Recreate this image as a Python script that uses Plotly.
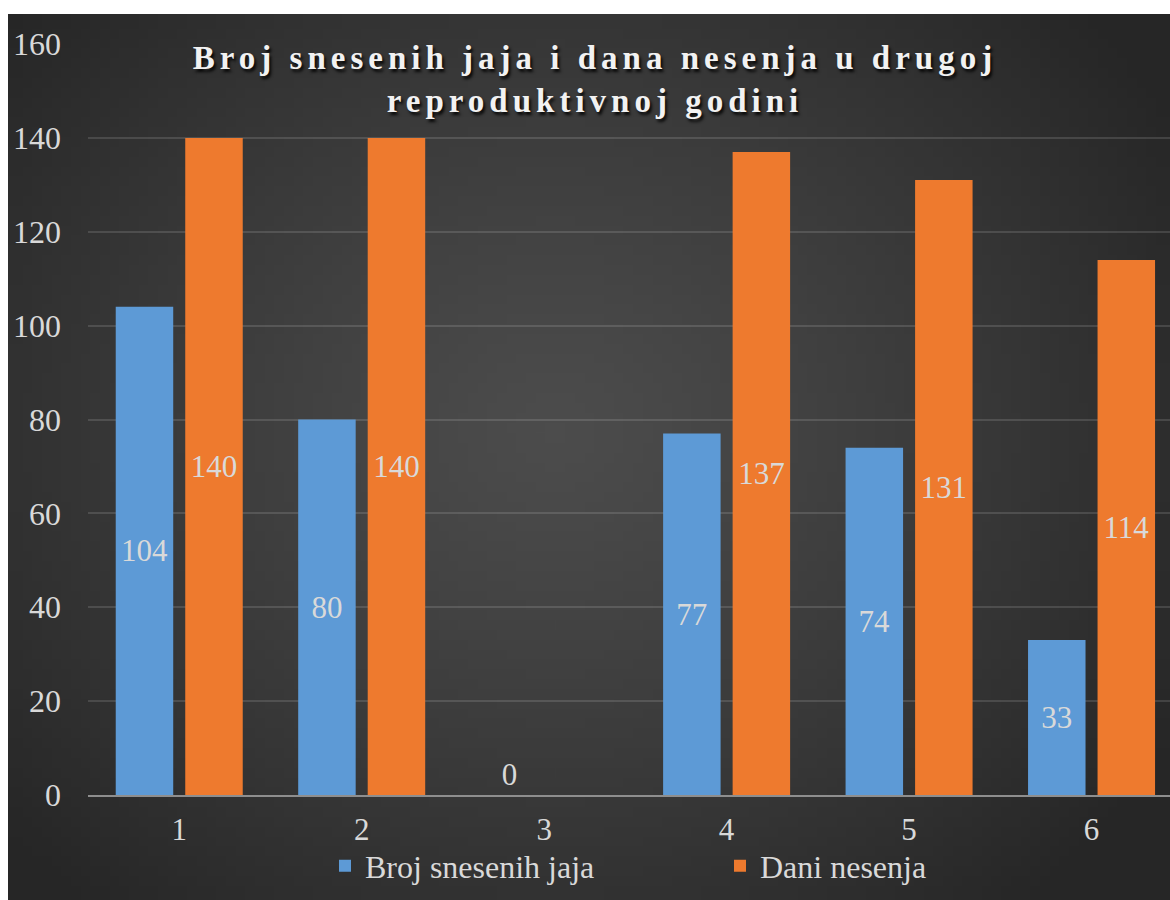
import base64, struct, zlib, math
import plotly.graph_objects as go

categories = [1, 2, 3, 4, 5, 6]
category_labels = ["1", "2", "3", "4", "5", "6"]
eggs = [104, 80, 0, 77, 74, 33]          # Broj snesenih jaja
days = [140, 140, None, 137, 131, 114]   # Dani nesenja
y_ticks = [0, 20, 40, 60, 80, 100, 120, 140, 160]

title_text = "Broj snesenih jaja i dana nesenja u drugoj<br>reproduktivnoj godini"

# ---- radial gradient background as an embedded PNG ----
def gradient_png(w=120, h=90):
    rows = []
    cx, cy = 0.47, 0.47
    for j in range(h):
        row = bytearray([0])
        for i in range(w):
            dx = (i / (w - 1) - cx) * 1.15
            dy = (j / (h - 1) - cy)
            d = math.sqrt(dx * dx + dy * dy) / 0.72
            d = min(d, 1.0)
            v = int(round(76 - (76 - 38) * d ** 1.2))
            row += bytes([v])
        rows.append(bytes(row))
    raw = b"".join(rows)
    def chunk(t, data):
        c = struct.pack(">I", len(data)) + t + data
        return c + struct.pack(">I", zlib.crc32(t + data) & 0xffffffff)
    png = b"\x89PNG\r\n\x1a\n"
    png += chunk(b"IHDR", struct.pack(">IIBBBBB", w, h, 8, 0, 0, 0, 0))
    png += chunk(b"IDAT", zlib.compress(raw, 9))
    png += chunk(b"IEND", b"")
    return "data:image/png;base64," + base64.b64encode(png).decode()

W, H = 1170, 900
L, T, R, B = 88, 44, 1170, 795
pw, ph = R - L, B - T
def px(x): return (x - L) / pw
def py(y): return (B - y) / ph

serif = "Liberation Serif"
txt_col = "#d9d9d9"
fs = 32

fig = go.Figure()
fig.add_trace(go.Bar(
    x=categories, y=eggs, name="Broj snesenih jaja",
    marker=dict(color="#5d9ad6", line=dict(width=0)),
    text=[str(v) for v in eggs],
    textposition=["inside" if v > 0 else "outside" for v in eggs],
    insidetextanchor="middle", textangle=0, constraintext="none",
    textfont=dict(family=serif, size=31, color=txt_col),
    cliponaxis=False,
))
fig.add_trace(go.Bar(
    x=categories, y=days, name="Dani nesenja",
    marker=dict(color="#ee7a2e", line=dict(width=0)),
    text=[("" if v is None else str(v)) for v in days],
    textposition="inside",
    insidetextanchor="middle", textangle=0, constraintext="none",
    textfont=dict(family=serif, size=31, color=txt_col),
))

fig.update_layout(
    width=W, height=H,
    margin=dict(l=L, r=W - R, t=T, b=H - B, pad=0),
    paper_bgcolor="white",
    plot_bgcolor="rgba(0,0,0,0)",
    barmode="group", bargap=0.238, bargroupgap=0.173,
    title=dict(
        text=title_text, x=px(595), xref="paper", xanchor="center",
        y=1 - 69 / H, yref="container", yanchor="top",
        font=dict(family=serif, size=33, color="#f2f2f2", weight="bold",
                  shadow="2px 3px 3px rgba(0,0,0,0.85)"),
    ),
    xaxis=dict(
        range=[0.5, 6.43], tickmode="array", tickvals=categories, ticktext=category_labels,
        showgrid=False, zeroline=False, showline=True, linecolor="#8e8e8e", linewidth=2,
        ticks="", ticklabelstandoff=6,
        tickfont=dict(family=serif, size=31, color=txt_col),
    ),
    yaxis=dict(
        range=[0, 160], tickmode="array", tickvals=y_ticks,
        showgrid=True, gridcolor="rgba(255,255,255,0.13)", gridwidth=2,
        zeroline=False, showline=False, ticks="", ticklabelstandoff=26,
        tickfont=dict(family=serif, size=fs, color=txt_col),
    ),
    legend=dict(
        orientation="h", x=px(325), xanchor="left", y=py(866), yanchor="middle",
        entrywidth=350, entrywidthmode="pixels",
        font=dict(family=serif, size=fs, color=txt_col),
        bgcolor="rgba(0,0,0,0)", itemclick=False,
    ),
    showlegend=True,
    images=[dict(
        source=gradient_png(), xref="paper", yref="paper",
        x=px(8), y=py(14), sizex=px(1170) - px(8), sizey=py(14) - py(900),
        xanchor="left", yanchor="top", sizing="stretch", layer="below",
    )],
)

post = """
document.body.style.margin='0';
var gd = document.getElementById('{plot_id}');
function ls(){ var t = gd.querySelector('.gtitle'); if(t){ t.style.letterSpacing='5px'; } }
ls(); gd.on('plotly_afterplot', ls);
"""
fig.write_html("out.html", post_script=post, config={"displayModeBar": False})
